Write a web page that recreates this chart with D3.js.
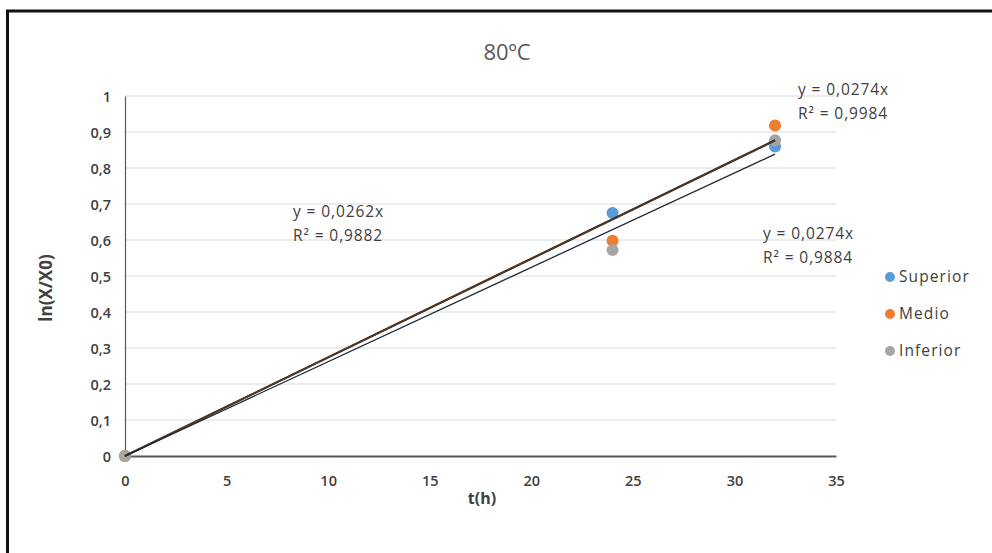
<!DOCTYPE html>
<html><head><meta charset="utf-8">
<script src="https://cdn.jsdelivr.net/npm/d3@7"></script>
<style>body{margin:0;background:#fff}svg{display:block}text{font-family:"Open Sans",Lato,sans-serif}</style>
</head><body><svg id="c" width="992" height="553"></svg>
<script>
const title = "80ºC";
const xLabel = "t(h)";
const yLabel = "ln(X/X0)";
const times = [0, 24, 32];
const seriesNames = ["Superior", "Medio", "Inferior"];
const superior = [0, 0.675, 0.86];
const medio = [0, 0.598, 0.918];
const inferior = [0, 0.572, 0.877];
const colors = ["#5B9BD5", "#ED7D31", "#A5A5A5"];
const xTicks = [0, 5, 10, 15, 20, 25, 30, 35];
const yTicks = [0, 0.1, 0.2, 0.3, 0.4, 0.5, 0.6, 0.7, 0.8, 0.9, 1];
const slopes = [0.0274, 0.0274, 0.0262];
const eqLabels = [["y = 0,0274x", "R² = 0,9884"], ["y = 0,0274x", "R² = 0,9984"], ["y = 0,0262x", "R² = 0,9882"]];

const svg = d3.select("#c");
// frame
svg.append("rect").attr("x",0).attr("y",0).attr("width",992).attr("height",553).attr("fill","#fff");
svg.append("line").attr("x1",6).attr("x2",992).attr("y1",11).attr("y2",11).attr("stroke","#111").attr("stroke-width",3);
svg.append("line").attr("x1",7.5).attr("x2",7.5).attr("y1",10).attr("y2",553).attr("stroke","#111").attr("stroke-width",3);

const x = d3.scaleLinear().domain([0,35]).range([125,836]);
const y = d3.scaleLinear().domain([0,1]).range([456,96]);

// grid
svg.append("g").selectAll("line").data(yTicks.slice(1)).join("line")
  .attr("x1",x(0)).attr("x2",x(35)).attr("y1",d=>y(d)).attr("y2",d=>y(d))
  .attr("stroke","#d9d9d9").attr("stroke-width",1);

// axes
const fmt = d => d3.format("")(d).replace(".", ",");
const yAxis = svg.append("g").attr("transform",`translate(${x(0)},0)`)
  .call(d3.axisLeft(y).tickValues(yTicks).tickFormat(fmt).tickSize(0).tickPadding(14));
yAxis.select(".domain").attr("stroke","#595959").attr("stroke-width",1.2);
const xAxis = svg.append("g").attr("transform",`translate(0,${y(0)})`)
  .call(d3.axisBottom(x).tickValues(xTicks).tickFormat(fmt).tickSize(0).tickPadding(20));
xAxis.select(".domain").attr("stroke","#595959").attr("stroke-width",2);
svg.selectAll(".tick text").attr("fill","#404040").attr("font-size",14.5).attr("font-weight","600");
yAxis.selectAll(".tick text").attr("dy","0.35em");

// title & axis titles
svg.append("text").attr("x",507).attr("y",60).attr("text-anchor","middle").attr("font-size",22).attr("fill","#595959").text(title);
svg.append("text").attr("x",482).attr("y",504).attr("text-anchor","middle").attr("font-size",16).attr("font-weight","bold").attr("fill","#404040").text(xLabel);
svg.append("text").attr("transform","translate(52,288) rotate(-90)").attr("text-anchor","middle").attr("font-size",17).attr("font-weight","bold").attr("fill","#404040").text(yLabel);

// points
const data = [superior, medio, inferior];
data.forEach((vals,i)=>{
  svg.append("g").selectAll("circle").data(vals).join("circle")
    .attr("cx",(d,j)=>x(times[j])).attr("cy",d=>y(d)).attr("r",6).attr("fill",colors[i]);
});

// trendlines
const tlStyle = [{c:"#1a1a1a",w:2.2},{c:"#5a3a22",w:1.4},{c:"#1f2a36",w:1.3}];
const tEnd = d3.max(times);
slopes.forEach((m,i)=>{
  svg.append("line").attr("x1",x(0)).attr("y1",y(0)).attr("x2",x(tEnd)).attr("y2",y(m*tEnd))
    .attr("stroke",tlStyle[i].c).attr("stroke-width",tlStyle[i].w);
});

// equation labels
const labelPos = [[763,239],[798,95],[293,217]];
eqLabels.forEach((l,i)=>{
  const t = svg.append("text").attr("x",labelPos[i][0]).attr("y",labelPos[i][1]).attr("font-size",15.5).attr("letter-spacing","0.9").attr("fill","#404040");
  t.append("tspan").attr("x",labelPos[i][0]).text(l[0]);
  t.append("tspan").attr("x",labelPos[i][0]).attr("dy",24).text(l[1]);
});

// legend
const lg = svg.append("g");
seriesNames.forEach((n,i)=>{
  const yy = 277 + i*37;
  lg.append("circle").attr("cx",890).attr("cy",yy).attr("r",5).attr("fill",colors[i]);
  lg.append("text").attr("x",899).attr("y",yy).attr("dy","0.35em").attr("font-size",15.5).attr("letter-spacing","1.1").attr("fill","#404040").text(n);
});
</script></body></html>
